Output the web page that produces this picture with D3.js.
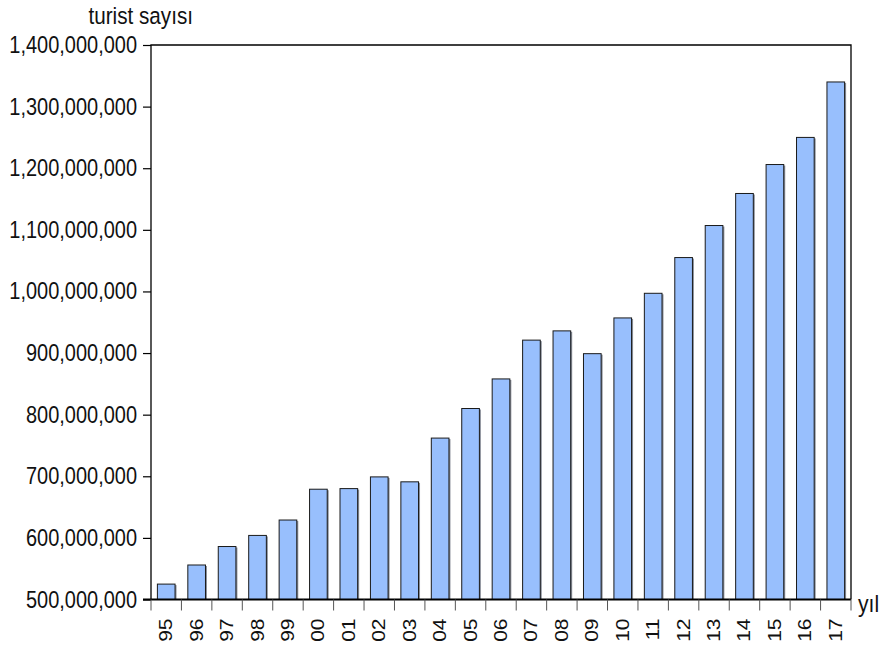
<!DOCTYPE html>
<html>
<head>
<meta charset="utf-8">
<script src="https://cdn.jsdelivr.net/npm/d3@7"></script>
<style>
  body { margin: 0; background: #fff; }
  svg { display: block; }
  text { font-family: "Liberation Sans", Arial, sans-serif; fill: #111; }
</style>
</head>
<body>
<div id="chart"></div>
<script>
// Data
const years = ["95", "96", "97", "98", "99", "00", "01", "02", "03", "04", "05", "06",
  "07", "08", "09", "10", "11", "12", "13", "14", "15", "16", "17"];
const tourists = [525e6, 556e6, 586e6, 604e6, 629e6, 679e6, 680e6, 699e6, 691e6, 762e6,
  810e6, 858e6, 921e6, 936e6, 899e6, 957e6, 997e6, 1055e6, 1107e6, 1159e6, 1206e6, 1250e6, 1340e6];
const yTicks = [500e6, 600e6, 700e6, 800e6, 900e6, 1000e6, 1100e6, 1200e6, 1300e6, 1400e6];

const W = 882, H = 651;
const m = { left: 151, right: 851, top: 45, bottom: 599.5 };
const narrow = 0.85; // the labels in the picture are squeezed horizontally

const svg = d3.select("#chart").append("svg")
  .attr("width", W)
  .attr("height", H);

const x = d3.scaleBand()
  .domain(years)
  .range([m.left, m.right])
  .paddingInner(0.42)
  .paddingOuter(0.21);

const y = d3.scaleLinear()
  .domain([500e6, 1400e6])
  .range([m.bottom, m.top]);

// bars: grey shadow on right, then filled bar
const gBars = svg.append("g");
gBars.selectAll("rect.shadow")
  .data(tourists)
  .join("rect")
  .attr("class", "shadow")
  .attr("x", (d, i) => x(years[i]) + 1.5)
  .attr("y", d => y(d) + 1)
  .attr("width", x.bandwidth())
  .attr("height", d => m.bottom - y(d) - 1)
  .attr("fill", "#8a8f99");

gBars.selectAll("rect.bar")
  .data(tourists)
  .join("rect")
  .attr("class", "bar")
  .attr("x", (d, i) => x(years[i]))
  .attr("y", d => y(d))
  .attr("width", x.bandwidth())
  .attr("height", d => m.bottom - y(d))
  .attr("fill", "#98bffd")
  .attr("stroke", "#1a1a1a")
  .attr("stroke-width", 1);

// frame
svg.append("path")
  .attr("d", `M${m.left},${m.bottom}V${m.top}H${m.right}V${m.bottom}`)
  .attr("fill", "none")
  .attr("stroke", "#000")
  .attr("stroke-width", 1.3);

// y axis
const yAxis = d3.axisLeft(y)
  .tickValues(yTicks)
  .tickSize(8)
  .tickPadding(6)
  .tickFormat(d3.format(","));

svg.append("g")
  .attr("transform", `translate(${m.left},0)`)
  .call(yAxis)
  .call(g => g.select(".domain").remove())
  .call(g => g.selectAll(".tick line").attr("stroke", "#000").attr("stroke-width", 1.2))
  .call(g => g.selectAll(".tick text")
    .attr("font-size", 23.5)
    .attr("dy", "0.32em")
    .attr("x", -14 / narrow)
    .attr("transform", `scale(${narrow},1)`)
    .style("font-family", null));

// x axis: ticks on band boundaries
const gx = svg.append("g");
gx.append("line")
  .attr("x1", m.left - 8).attr("x2", m.right)
  .attr("y1", m.bottom).attr("y2", m.bottom)
  .attr("stroke", "#000").attr("stroke-width", 2.2);

const bounds = years.map(d => x(d) - x.step() * x.paddingInner() / 2);
bounds.push(m.right);
gx.selectAll("line.xt")
  .data(bounds)
  .join("line")
  .attr("class", "xt")
  .attr("x1", d => d).attr("x2", d => d)
  .attr("y1", m.bottom).attr("y2", m.bottom + 11)
  .attr("stroke", "#555").attr("stroke-width", 1);

gx.selectAll("text.xl")
  .data(years)
  .join("text")
  .attr("class", "xl")
  .attr("transform", d => `translate(${x(d) + x.bandwidth() / 2 + 6},${m.bottom + 19}) rotate(-90) scale(1,0.84)`)
  .attr("text-anchor", "end")
  .attr("font-size", 21)
  .text(d => d);

// axis titles
svg.append("text")
  .attr("transform", `translate(193,24) scale(0.88,1)`)
  .attr("text-anchor", "end")
  .attr("font-size", 23.5)
  .text("turist sayısı");

svg.append("text")
  .attr("transform", `translate(858,612) scale(0.9,1)`)
  .attr("font-size", 23.5)
  .text("yıl");
</script>
</body>
</html>
